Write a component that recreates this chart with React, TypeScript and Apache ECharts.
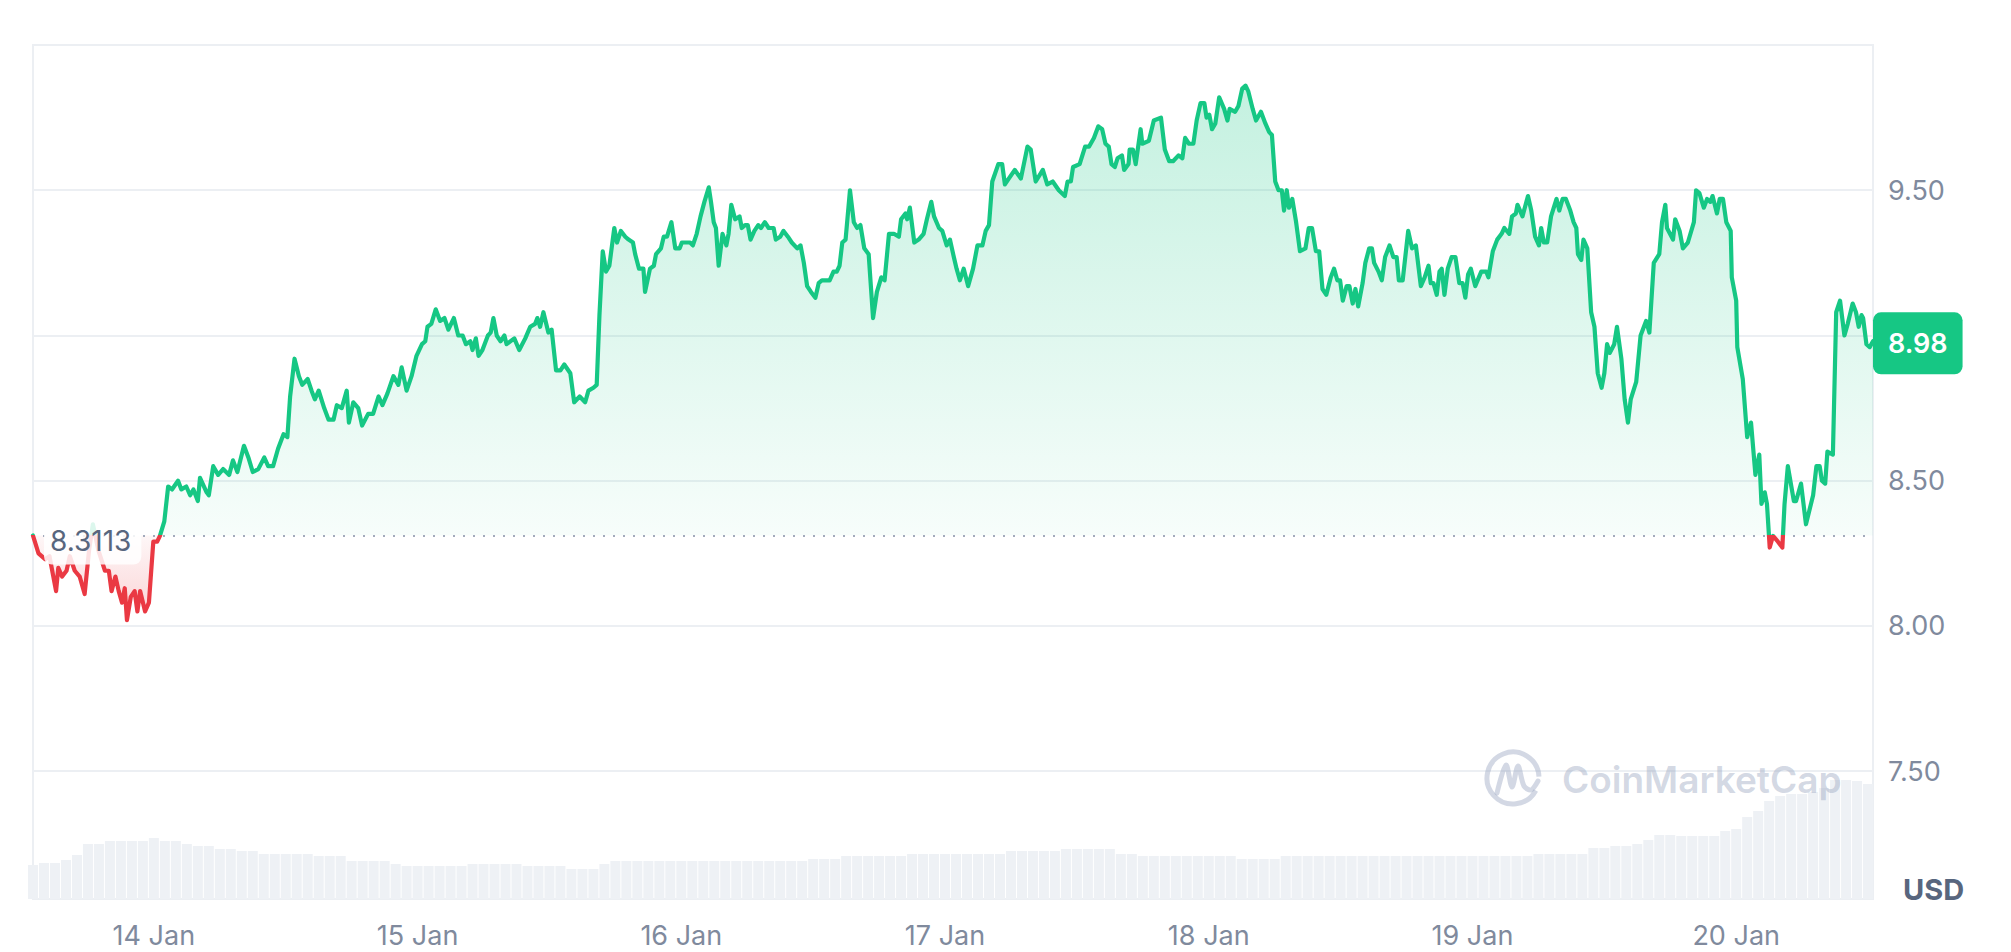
import React, { useEffect, useRef } from "react";
import * as echarts from "echarts";

// ---------- data ----------
const BASE_PRICE = 8.3113; // opening price (dotted baseline)
const DAY_LABELS = ["14 Jan", "15 Jan", "16 Jan", "17 Jan", "18 Jan", "19 Jan", "20 Jan"];
const DAY_HOURS = [0, 24, 48, 72, 96, 120, 144]; // hours since 14 Jan 00:00
const X_MIN_HOUR = -11;

// [hours since 14 Jan 00:00, price USD]
const PRICE_POINTS: [number, number][] = [
  [-11.0, 8.3113], [-10.5, 8.25], [-9.9, 8.23], [-9.5, 8.24], [-8.9, 8.12], [-8.7, 8.2], [-8.35, 8.17],
  [-7.95, 8.19], [-7.65, 8.24], [-7.2, 8.19], [-6.75, 8.17], [-6.3, 8.11], [-5.9, 8.26], [-5.55, 8.35],
  [-5.05, 8.26], [-4.45, 8.19], [-4.1, 8.19], [-3.85, 8.12], [-3.5, 8.17], [-3.2, 8.12], [-2.9, 8.08],
  [-2.65, 8.13], [-2.45, 8.02], [-2.1, 8.1], [-1.75, 8.12], [-1.5, 8.05], [-1.25, 8.12], [-0.8, 8.05],
  [-0.45, 8.08], [-0.05, 8.29], [0.3, 8.29], [0.55, 8.31], [0.95, 8.36], [1.3, 8.48], [1.65, 8.47],
  [2.2, 8.5], [2.5, 8.47], [2.95, 8.48], [3.3, 8.45], [3.6, 8.47], [4.0, 8.43], [4.2, 8.51], [4.8, 8.46],
  [5.0, 8.45], [5.4, 8.55], [5.85, 8.52], [6.3, 8.54], [6.85, 8.52], [7.2, 8.57], [7.6, 8.53], [8.2, 8.62],
  [8.6, 8.58], [9.0, 8.53], [9.5, 8.54], [10.05, 8.58], [10.4, 8.55], [10.85, 8.55], [11.3, 8.61],
  [11.8, 8.66], [12.15, 8.65], [12.4, 8.79], [12.8, 8.92], [13.2, 8.86], [13.5, 8.83], [14.0, 8.85],
  [14.35, 8.81], [14.65, 8.78], [15.0, 8.81], [15.5, 8.75], [15.9, 8.71], [16.35, 8.71], [16.65, 8.76],
  [17.1, 8.75], [17.55, 8.81], [17.75, 8.7], [18.15, 8.77], [18.6, 8.75], [18.95, 8.69], [19.5, 8.73],
  [19.95, 8.73], [20.45, 8.79], [20.8, 8.76], [21.25, 8.8], [21.8, 8.86], [22.25, 8.83], [22.55, 8.89],
  [23.0, 8.81], [23.45, 8.86], [23.9, 8.93], [24.4, 8.97], [24.7, 8.98], [24.9, 9.03], [25.25, 9.04],
  [25.65, 9.09], [26.05, 9.05], [26.45, 9.06], [26.8, 9.02], [27.3, 9.06], [27.7, 9.0], [28.1, 9.0],
  [28.4, 8.97], [28.8, 8.98], [29.0, 8.95], [29.3, 8.99], [29.55, 8.93], [29.9, 8.95], [30.4, 9.0],
  [30.65, 9.01], [30.9, 9.06], [31.2, 9.0], [31.55, 8.98], [31.9, 9.0], [32.1, 8.97], [32.8, 8.99],
  [33.25, 8.95], [33.8, 8.99], [34.25, 9.03], [34.7, 9.04], [34.9, 9.06], [35.15, 9.03], [35.45, 9.08],
  [35.9, 9.01], [36.2, 9.02], [36.6, 8.88], [37.0, 8.88], [37.35, 8.9], [37.9, 8.87], [38.25, 8.77],
  [38.75, 8.79], [39.25, 8.77], [39.55, 8.81], [40.0, 8.82], [40.3, 8.83], [40.55, 9.07], [40.85, 9.29],
  [41.15, 9.22], [41.45, 9.24], [41.9, 9.37], [42.15, 9.32], [42.5, 9.36], [42.9, 9.34], [43.2, 9.33],
  [43.6, 9.32], [43.8, 9.28], [44.15, 9.23], [44.55, 9.23], [44.7, 9.15], [45.15, 9.23], [45.5, 9.24],
  [45.7, 9.28], [46.15, 9.3], [46.4, 9.34], [46.7, 9.34], [47.1, 9.39], [47.45, 9.3], [47.85, 9.3],
  [48.05, 9.32], [48.5, 9.32], [48.8, 9.32], [49.05, 9.31], [49.4, 9.35], [49.75, 9.41], [50.1, 9.46],
  [50.5, 9.51], [50.7, 9.46], [50.95, 9.39], [51.15, 9.37], [51.4, 9.24], [51.75, 9.35], [52.1, 9.31],
  [52.3, 9.35], [52.55, 9.45], [52.9, 9.4], [53.3, 9.41], [53.5, 9.37], [53.8, 9.38], [54.05, 9.38],
  [54.3, 9.33], [54.65, 9.36], [55.0, 9.38], [55.25, 9.37], [55.6, 9.39], [55.95, 9.37], [56.4, 9.37],
  [56.6, 9.33], [57.0, 9.34], [57.3, 9.36], [57.7, 9.34], [58.05, 9.32], [58.55, 9.3], [58.85, 9.31],
  [59.15, 9.25], [59.45, 9.17], [59.8, 9.15], [60.2, 9.13], [60.5, 9.18], [60.8, 9.19], [61.5, 9.19],
  [61.85, 9.22], [62.15, 9.22], [62.4, 9.24], [62.65, 9.32], [62.95, 9.33], [63.35, 9.5], [63.7, 9.39],
  [64.0, 9.37], [64.3, 9.38], [64.65, 9.3], [65.05, 9.28], [65.45, 9.06], [65.8, 9.15], [66.2, 9.2],
  [66.5, 9.19], [66.9, 9.35], [67.35, 9.35], [67.8, 9.34], [68.0, 9.4], [68.4, 9.42], [68.55, 9.4],
  [68.8, 9.44], [69.2, 9.32], [69.6, 9.33], [70.05, 9.35], [70.35, 9.4], [70.75, 9.46], [71.0, 9.41],
  [71.45, 9.37], [71.75, 9.36], [72.15, 9.31], [72.45, 9.33], [72.8, 9.27], [73.05, 9.23], [73.35, 9.19],
  [73.7, 9.23], [74.1, 9.17], [74.55, 9.23], [74.95, 9.31], [75.4, 9.31], [75.7, 9.36], [76.0, 9.38],
  [76.3, 9.53], [76.85, 9.59], [77.2, 9.59], [77.45, 9.52], [77.8, 9.54], [78.35, 9.57], [78.9, 9.54],
  [79.5, 9.65], [79.8, 9.64], [80.25, 9.53], [80.9, 9.57], [81.3, 9.52], [81.8, 9.53], [82.35, 9.5],
  [82.9, 9.48], [83.15, 9.53], [83.45, 9.53], [83.65, 9.58], [84.25, 9.59], [84.75, 9.65], [85.1, 9.65],
  [85.55, 9.68], [85.95, 9.72], [86.3, 9.71], [86.6, 9.66], [86.9, 9.65], [87.15, 9.59], [87.45, 9.58],
  [87.7, 9.61], [88.1, 9.62], [88.3, 9.57], [88.7, 9.59], [88.8, 9.64], [89.1, 9.64], [89.35, 9.59],
  [89.8, 9.71], [89.95, 9.66], [90.55, 9.67], [91.0, 9.74], [91.65, 9.75], [92.0, 9.64], [92.4, 9.6],
  [92.75, 9.6], [93.25, 9.62], [93.6, 9.61], [93.85, 9.68], [94.2, 9.66], [94.6, 9.66], [94.9, 9.74],
  [95.25, 9.8], [95.6, 9.8], [95.8, 9.75], [96.05, 9.76], [96.3, 9.71], [96.6, 9.73], [96.95, 9.82],
  [97.4, 9.78], [97.7, 9.74], [97.9, 9.78], [98.4, 9.77], [98.7, 9.79], [99.05, 9.85], [99.35, 9.86],
  [99.6, 9.84], [100.0, 9.78], [100.3, 9.74], [100.75, 9.77], [101.15, 9.73], [101.5, 9.7], [101.75, 9.69],
  [102.05, 9.53], [102.35, 9.5], [102.65, 9.5], [102.85, 9.43], [103.1, 9.5], [103.3, 9.44], [103.6, 9.47],
  [103.95, 9.39], [104.3, 9.29], [104.8, 9.3], [105.1, 9.37], [105.4, 9.37], [105.75, 9.29], [106.05, 9.29],
  [106.35, 9.16], [106.7, 9.14], [107.1, 9.2], [107.4, 9.23], [107.7, 9.19], [107.95, 9.19], [108.2, 9.12],
  [108.55, 9.17], [108.8, 9.17], [109.1, 9.11], [109.35, 9.16], [109.6, 9.1], [110.0, 9.18], [110.25, 9.25],
  [110.6, 9.3], [110.85, 9.3], [111.05, 9.25], [111.45, 9.22], [111.75, 9.19], [112.05, 9.27], [112.45, 9.31],
  [112.8, 9.27], [113.1, 9.27], [113.3, 9.19], [113.65, 9.19], [114.15, 9.36], [114.5, 9.3], [114.85, 9.31],
  [115.3, 9.17], [115.65, 9.2], [116.0, 9.24], [116.2, 9.18], [116.45, 9.18], [116.75, 9.14], [117.0, 9.22],
  [117.2, 9.23], [117.45, 9.14], [117.75, 9.23], [118.1, 9.27], [118.45, 9.27], [118.8, 9.18], [119.1, 9.18],
  [119.35, 9.13], [119.6, 9.21], [119.85, 9.23], [120.25, 9.17], [120.8, 9.22], [121.25, 9.22], [121.45, 9.2],
  [121.85, 9.29], [122.25, 9.33], [122.65, 9.35], [122.9, 9.37], [123.35, 9.35], [123.6, 9.41], [123.95, 9.42],
  [124.1, 9.45], [124.55, 9.41], [125.05, 9.48], [125.35, 9.43], [125.7, 9.34], [126.05, 9.31], [126.25, 9.37],
  [126.5, 9.32], [126.8, 9.32], [127.15, 9.41], [127.65, 9.47], [127.9, 9.43], [128.2, 9.47], [128.5, 9.47],
  [128.9, 9.43], [129.2, 9.39], [129.45, 9.37], [129.6, 9.28], [129.9, 9.26], [130.1, 9.33], [130.45, 9.3],
  [130.8, 9.08], [131.1, 9.03], [131.4, 8.87], [131.75, 8.82], [132.0, 8.87], [132.25, 8.97], [132.5, 8.94],
  [132.9, 8.97], [133.15, 9.03], [133.55, 8.92], [133.85, 8.78], [134.15, 8.7], [134.4, 8.78], [134.9, 8.84],
  [135.3, 9.0], [135.8, 9.05], [136.1, 9.01], [136.5, 9.25], [137.0, 9.28], [137.25, 9.39], [137.55, 9.45],
  [137.7, 9.37], [138.25, 9.33], [138.45, 9.4], [138.85, 9.36], [139.15, 9.3], [139.6, 9.32], [140.15, 9.39],
  [140.35, 9.5], [140.65, 9.49], [141.05, 9.44], [141.35, 9.47], [141.65, 9.46], [141.85, 9.48], [142.25, 9.42],
  [142.5, 9.47], [142.8, 9.47], [143.1, 9.39], [143.5, 9.36], [143.6, 9.2], [144.0, 9.12], [144.1, 8.96],
  [144.6, 8.85], [145.0, 8.65], [145.35, 8.7], [145.75, 8.52], [146.1, 8.59], [146.3, 8.42], [146.6, 8.46],
  [146.8, 8.42], [147.05, 8.27], [147.35, 8.31], [147.8, 8.29], [148.2, 8.27], [148.4, 8.42], [148.7, 8.55],
  [149.25, 8.43], [149.45, 8.43], [149.9, 8.49], [150.35, 8.35], [151.0, 8.45], [151.3, 8.55], [151.6, 8.55],
  [151.8, 8.5], [152.1, 8.49], [152.3, 8.6], [152.8, 8.59], [153.1, 9.08], [153.45, 9.12], [153.85, 9.0],
  [154.15, 9.04], [154.6, 9.11], [154.9, 9.08], [155.15, 9.03], [155.4, 9.07], [155.55, 9.06], [155.85, 8.97],
  [156.15, 8.96], [156.45, 8.98],
];

// hourly volume (million USD), first bar at hour -11
const VOLUME_START_HOUR = -11;
const VOLUME = [
  17, 18, 18, 19.5, 22, 27.5, 27.5, 29, 29, 29, 29, 30.5, 29, 29, 27.5, 26.5, 26.5, 25, 25, 24, 24,
  22.5, 22.5, 22.5, 22.5, 22.5, 21.5, 21.5, 21.5, 19, 19, 19, 19, 17.5, 16.5, 16.5, 16.5, 16.5, 16.5, 16.5,
  17.5, 17.5, 17.5, 17.5, 17.5, 16.5, 16.5, 16.5, 16.5, 15, 15, 15, 17.5,
  19, 19, 19, 19, 19, 19, 19, 19, 19, 19, 19, 19, 19, 19, 19, 19, 19, 19,
  20, 20, 20, 21.5, 21.5, 21.5, 21.5, 21.5, 21.5,
  22.5, 22.5, 22.5, 22.5, 22.5, 22.5, 22.5, 22.5, 22.5, 24, 24, 24, 24, 24, 25, 25, 25, 25, 25, 22.5, 22.5,
  21.5, 21.5, 21.5, 21.5, 21.5, 21.5, 21.5, 21.5, 21.5, 20, 20, 20, 20,
  21.5, 21.5, 21.5, 21.5, 21.5, 21.5, 21.5, 21.5, 21.5, 21.5, 21.5, 21.5, 21.5, 21.5, 21.5, 21.5, 21.5,
  21.5, 21.5, 21.5, 21.5, 21.5, 21.5,
  22.5, 22.5, 22.5, 22.5, 22.5, 25.5, 25.5, 26.5, 26.5, 27.5, 29.5, 32, 32, 31.5, 31.5, 31.5, 31.5,
  34, 35, 41, 44, 49, 51.5, 52.5, 52.5, 53.5, 55.5, 59.5, 59.5, 59, 57.5,
];

// ---------- styles ----------
const GREEN = "#16c784";
const RED = "#ea3943";
const FONT = "Inter, 'Noto Sans', sans-serif";
const LABEL_COLOR = "#808a9d";
const GRID_COLOR = "#eceff3";

export default function App() {
  const ref = useRef<HTMLDivElement>(null);

  useEffect(() => {
    if (!ref.current) return;
    const chart = echarts.init(ref.current, undefined, { renderer: "svg" });

    const last = PRICE_POINTS[PRICE_POINTS.length - 1];
    const upData = PRICE_POINTS.map(([t, p]) => [t, Math.max(p, BASE_PRICE)]);
    const downData = PRICE_POINTS.map(([t, p]) => [t, Math.min(p, BASE_PRICE)]);
    const volData = VOLUME.map((v, i) => [VOLUME_START_HOUR + i, v]);

    const option: any = {
      animation: false,
      backgroundColor: "#ffffff",
      grid: {
        left: 33,
        right: 138,
        top: 45,
        bottom: 53,
        show: true,
        borderColor: GRID_COLOR,
        borderWidth: 2,
        backgroundColor: "transparent",
        outerBoundsMode: "none",
      },
      xAxis: {
        type: "value",
        min: X_MIN_HOUR,
        max: last[0],
        axisLine: { show: false },
        axisTick: { show: false },
        splitLine: { show: false },
        axisLabel: {
          customValues: DAY_HOURS,
          formatter: (v: number) => {
            const i = DAY_HOURS.indexOf(Math.round(v));
            return i >= 0 ? DAY_LABELS[i] : "";
          },
          color: LABEL_COLOR,
          fontSize: 27,
          fontFamily: FONT,
          margin: 23,
        },
      },
      yAxis: [
        {
          type: "value",
          position: "right",
          min: 7.06,
          max: 10.0,
          splitNumber: 6,
          axisLine: { show: false },
          axisTick: { show: false },
          splitLine: { show: true, lineStyle: { color: GRID_COLOR, width: 2 } },
          axisLabel: {
            showMinLabel: false,
            showMaxLabel: false,
            // the tick label hidden behind the current-price badge is not shown
            formatter: (v: number) => (Math.abs(v - last[1]) < 0.15 ? "" : v.toFixed(2)),
            color: LABEL_COLOR,
            fontSize: 27,
            fontFamily: FONT,
            margin: 15,
          },
        },
        {
          type: "value",
          min: 0,
          max: 427,
          show: false,
          splitLine: { show: false },
        },
      ],
      visualMap: {
        type: "piecewise",
        show: false,
        dimension: 1,
        seriesIndex: 3,
        pieces: [
          { gte: 0, lt: BASE_PRICE, color: RED },
          { gte: BASE_PRICE, lte: 100, color: GREEN },
        ],
        outOfRange: { color: GREEN },
      },
      series: [
        {
          name: "Volume",
          type: "bar",
          yAxisIndex: 1,
          data: volData,
          barWidth: 10,
          itemStyle: { color: "#eef1f5" },
          silent: true,
          z: 1,
        },
        {
          name: "AreaUp",
          type: "line",
          data: upData,
          showSymbol: false,
          symbol: "none",
          lineStyle: { width: 0, opacity: 0 },
          areaStyle: {
            origin: BASE_PRICE,
            color: new echarts.graphic.LinearGradient(0, 0, 0, 1, [
              { offset: 0, color: "rgba(22,199,132,0.36)" },
              { offset: 1, color: "rgba(22,199,132,0.05)" },
            ]),
          },
          silent: true,
          z: 2,
          markLine: {
            silent: true,
            symbol: ["none", "none"],
            label: { show: false },
            lineStyle: { color: "#a3abbc", width: 2, type: [2, 8] },
            data: [{ yAxis: BASE_PRICE }],
            z: 3,
          },
          markPoint: {
            silent: true,
            z: 10,
            data: [
              {
                coord: [X_MIN_HOUR, BASE_PRICE],
                symbol: "circle",
                symbolSize: 0,
                itemStyle: { color: "transparent" },
                label: {
                  show: true,
                  position: "right",
                  distance: 11,
                  offset: [0, 5],
                  formatter: String(BASE_PRICE),
                  color: "#58667e",
                  fontSize: 28,
                  fontFamily: FONT,
                  backgroundColor: "rgba(255,255,255,0.85)",
                  borderRadius: 8,
                  padding: [10, 10, 10, 6],
                },
              },
              {
                coord: [last[0], last[1]],
                symbol: "circle",
                symbolSize: 0,
                itemStyle: { color: "transparent" },
                label: {
                  show: true,
                  position: "right",
                  distance: 0,
                  offset: [0, 2],
                  formatter: last[1].toFixed(2),
                  color: "#ffffff",
                  fontSize: 27,
                  fontWeight: 600,
                  fontFamily: FONT,
                  lineHeight: 32,
                  backgroundColor: GREEN,
                  borderRadius: 8,
                  padding: [15, 15, 15, 15],
                },
              },
            ],
          },
        },
        {
          name: "AreaDown",
          type: "line",
          data: downData,
          showSymbol: false,
          symbol: "none",
          lineStyle: { width: 0, opacity: 0 },
          areaStyle: {
            origin: BASE_PRICE,
            color: new echarts.graphic.LinearGradient(0, 0, 0, 1, [
              { offset: 0, color: "rgba(234,57,67,0.06)" },
              { offset: 1, color: "rgba(234,57,67,0.32)" },
            ]),
          },
          silent: true,
          z: 2,
        },
        {
          name: "Price",
          type: "line",
          data: PRICE_POINTS,
          showSymbol: false,
          symbol: "none",
          lineStyle: { width: 4.2, join: "round", cap: "round" },
          z: 5,
        },
      ],
      graphic: [
        {
          type: "arc",
          z: 20,
          silent: true,
          shape: { cx: 1513, cy: 778, r: 26, startAngle: 0.5, endAngle: Math.PI * 2 - 0.05, clockwise: true },
          style: { stroke: "rgba(150,163,190,0.42)", lineWidth: 5, fill: "none" },
        },
        {
          type: "polyline",
          z: 20,
          silent: true,
          shape: {
            points: [
              [1497, 793],
              [1506, 765],
              [1512, 787],
              [1518, 766],
              [1524, 786],
              [1531, 790],
              [1538, 781],
            ],
            smooth: 0.3,
          },
          style: { stroke: "rgba(150,163,190,0.42)", lineWidth: 5, fill: "none", lineJoin: "round", lineCap: "round" },
        },
        {
          type: "text",
          z: 20,
          silent: true,
          x: 1562,
          y: 779,
          style: {
            text: "CoinMarketCap",
            fill: "rgba(150,163,190,0.42)",
            font: `600 37px ${FONT}`,
            verticalAlign: "middle",
            align: "left",
          },
        },
        {
          type: "text",
          z: 20,
          silent: true,
          x: 1903,
          y: 889,
          style: {
            text: "USD",
            fill: "#58667e",
            font: `700 29px ${FONT}`,
            verticalAlign: "middle",
            align: "left",
          },
        },
      ],
    };

    chart.setOption(option);
    return () => chart.dispose();
  }, []);

  return (
    <div
      ref={ref}
      style={{ position: "fixed", left: 0, top: 0, width: 2011, height: 952, background: "#ffffff" }}
    />
  );
}
